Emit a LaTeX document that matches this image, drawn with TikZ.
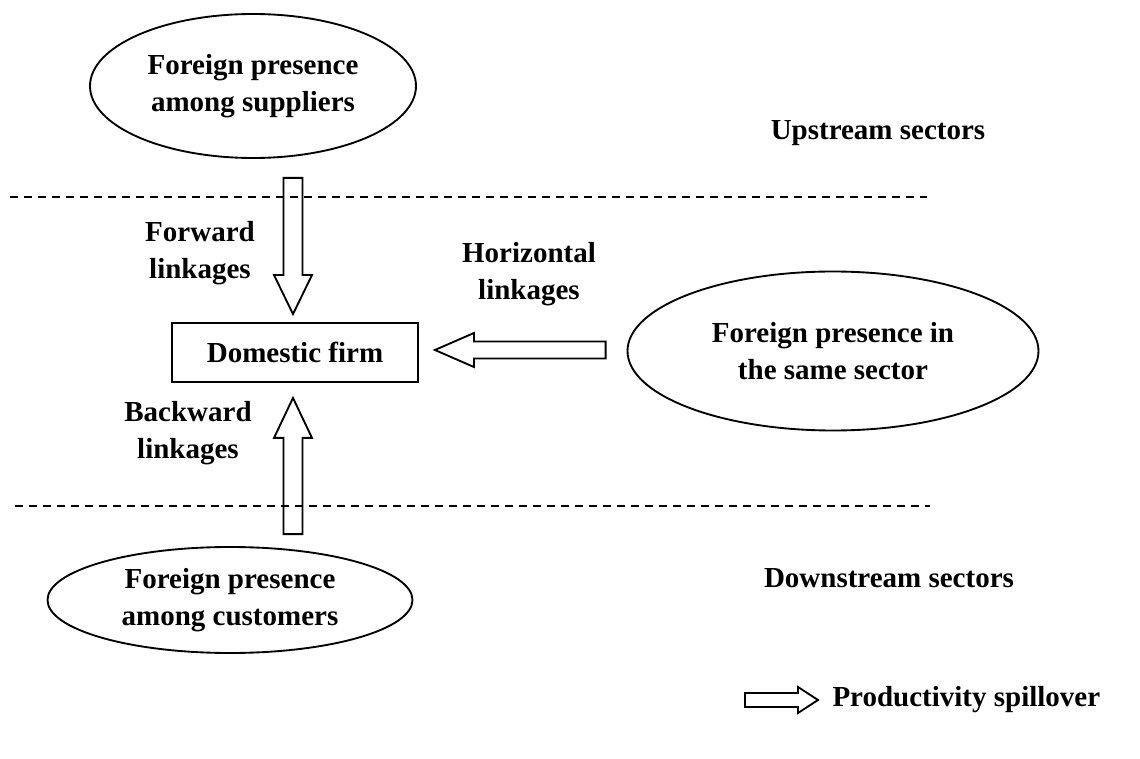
\documentclass[tikz,border=0pt]{standalone}
\usepackage{fontspec}
\setmainfont{Liberation Serif}
\usetikzlibrary{shapes.geometric,calc}

\tikzset{every picture/.style={line width=0.75pt}}
\tikzset{
  sector/.style={draw,ellipse,line width=1.4pt,inner sep=0pt,align=center,font=\bfseries\fontsize{21.75}{27.75}\selectfont},
  firm/.style={draw,rectangle,line width=1.4pt,inner sep=0pt,font=\bfseries\fontsize{21.75}{27.75}\selectfont},
  lbl/.style={inner sep=0pt,align=center,font=\bfseries\fontsize{21.75}{27.75}\selectfont},
  border/.style={dashed,line width=1.2pt,dash pattern=on 6pt off 4.5pt},
  spill/.style={draw,line width=1.4pt,line join=miter}
}

\begin{document}
\begin{tikzpicture}[x=0.75pt,y=0.75pt,yscale=-1,xscale=1]
    \path[use as bounding box] (0,0) rectangle (1140,759);
    % Sector borders
    \draw[border] (10,197) -- (927,197);
    \draw[border] (15,506) -- (930,506);
    % Text Node
    \node[sector,minimum width=244.5pt,minimum height=108pt] (sup) at (253,86) {Foreign presence\\among suppliers};
    % Text Node
    \node[firm,minimum width=184.5pt,minimum height=44.25pt] (dom) at (295,352.5) {Domestic firm};
    % Text Node
    \node[sector,minimum width=308.25pt,minimum height=119.25pt] (same) at (833,351) {Foreign presence in\\the same sector};
    % Text Node
    \node[sector,minimum width=273.75pt,minimum height=79.5pt] (cust) at (230,600) {Foreign presence\\among customers};
    % Labels
    \node[lbl] (up) at (878,133) {Upstream sectors};
    \node[lbl] (down) at (889,578) {Downstream sectors};
    \node[lbl] (fwd) at (200,253) {Forward\\linkages};
    \node[lbl] (hor) at (529,274) {Horizontal\\linkages};
    \node[lbl] (bwd) at (188,433) {Backward\\linkages};
    % Arrow ends
    \coordinate (fwdtail) at ($(dom.north |- sup.south)+(-2,19)$);
    \coordinate (fwdtip) at ($(dom.north)+(-2,-8)$);
    \coordinate (hortail) at ($(same.west)+(-21,-1)$);
    \coordinate (hortip) at ($(dom.east)+(16,-2.5)$);
    \coordinate (bwdtail) at ($(dom.south |- cust.north)+(-2,-12)$);
    \coordinate (bwdtip) at ($(dom.south)+(-2,15)$);
    % Connection
    \draw[spill] ($(fwdtail)+(-9.5,0)$) -- ($(fwdtip)+(-9.5,-39)$) -- ($(fwdtip)+(-19,-39)$) -- (fwdtip)
      -- ($(fwdtip)+(19,-39)$) -- ($(fwdtip)+(9.5,-39)$) -- ($(fwdtail)+(9.5,0)$) -- cycle;
    % Connection
    \draw[spill] ($(hortail)+(0,-8.5)$) -- ($(hortip)+(39,-8.5)$) -- ($(hortip)+(39,-17)$) -- (hortip)
      -- ($(hortip)+(39,17)$) -- ($(hortip)+(39,8.5)$) -- ($(hortail)+(0,8.5)$) -- cycle;
    % Connection
    \draw[spill] ($(bwdtail)+(-9.5,0)$) -- ($(bwdtip)+(-9.5,40)$) -- ($(bwdtip)+(-19,40)$) -- (bwdtip)
      -- ($(bwdtip)+(19,40)$) -- ($(bwdtip)+(9.5,40)$) -- ($(bwdtail)+(9.5,0)$) -- cycle;
    % Legend
    \node[lbl,anchor=west] (key) at (832,700) {Productivity spillover};
    \coordinate (keytip) at ($(key.west)+(-14,0)$);
    \coordinate (keytail) at ($(keytip)+(-73,0)$);
    \draw[spill] ($(keytail)+(0,-7)$) -- ($(keytip)+(-20,-7)$) -- ($(keytip)+(-20,-13)$) -- (keytip)
      -- ($(keytip)+(-20,13)$) -- ($(keytip)+(-20,7)$) -- ($(keytail)+(0,7)$) -- cycle;
\end{tikzpicture}
\end{document}
